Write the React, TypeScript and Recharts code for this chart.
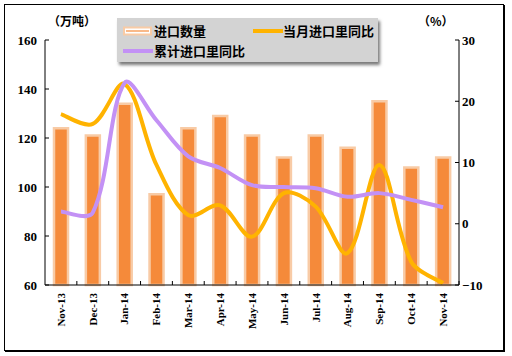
import React from 'react';
import { ComposedChart, Bar, Line, XAxis, YAxis } from 'recharts';

const categories = ['Nov-13', 'Dec-13', 'Jan-14', 'Feb-14', 'Mar-14', 'Apr-14', 'May-14', 'Jun-14', 'Jul-14', 'Aug-14', 'Sep-14', 'Oct-14', 'Nov-14'];
const importVolume = [124, 121, 134, 97, 124, 129, 121, 112, 121, 116, 135, 108, 112];
const monthlyYoY = [17.9, 16.3, 22.8, 9.6, 1.4, 3.0, -2.1, 5.0, 2.8, -4.8, 9.6, -6.2, -9.7];
const cumulativeYoY = [2.0, 1.8, 23.0, 16.9, 11.0, 9.1, 6.3, 6.0, 5.8, 4.4, 5.0, 3.9, 2.7];
const leftTicks = [60, 80, 100, 120, 140, 160];
const rightTicks = [-10, 0, 10, 20, 30];

const data = categories.map((name, i) => ({
  name,
  volume: importVolume[i],
  monthly: monthlyYoY[i],
  cumulative: cumulativeYoY[i],
}));

const W = 512;
const H = 356;
const LEFT_W = 45;
const RIGHT_W = 53;
const STEP = (W - LEFT_W - RIGHT_W) / categories.length;

const numFont = "'Liberation Serif', serif";
const cjkFont = "'Noto Sans CJK SC', sans-serif";
const ORANGE = '#F58A3A';
const PEACH = '#F8CBA6';
const YELLOW = '#FFB300';
const PURPLE = '#C391F5';

// Excel-style smoothed line: Bezier through the points, tangents weighted by chord length
const smoothCurve = (context: any) => {
  let pts: number[][] = [];
  const dist = (a: number[], b: number[]) => Math.hypot(b[0] - a[0], b[1] - a[1]) || 1;
  return {
    areaStart() {},
    areaEnd() {},
    lineStart() {
      pts = [];
    },
    point(x: number, y: number) {
      pts.push([+x, +y]);
    },
    lineEnd() {
      const n = pts.length;
      if (!n) return;
      context.moveTo(pts[0][0], pts[0][1]);
      for (let i = 0; i < n - 1; i++) {
        const p0 = pts[Math.max(i - 1, 0)];
        const p1 = pts[i];
        const p2 = pts[i + 1];
        const p3 = pts[Math.min(i + 2, n - 1)];
        const d01 = i === 0 ? dist(p1, p2) : dist(p0, p1);
        const d12 = dist(p1, p2);
        const d23 = i + 2 > n - 1 ? d12 : dist(p2, p3);
        const k1 = d12 / (d01 + d12) / 1.5;
        const k2 = d12 / (d12 + d23) / 1.5;
        context.bezierCurveTo(
          p1[0] + (p2[0] - p0[0]) * k1 * 0.5,
          p1[1] + (p2[1] - p0[1]) * k1 * 0.5,
          p2[0] - (p3[0] - p1[0]) * k2 * 0.5,
          p2[1] - (p3[1] - p1[1]) * k2 * 0.5,
          p2[0],
          p2[1]
        );
      }
    },
  };
};

const XTick = (props: any) => {
  const { x, y, payload } = props;
  return (
    <g>
      <line x1={x + STEP / 2} y1={y} x2={x + STEP / 2} y2={y - 4} stroke="#000" />
      <text
        transform={`translate(${x},${y + 8}) rotate(-90)`}
        textAnchor="end"
        dy="0.35em"
        fontFamily={numFont}
        fontWeight="bold"
        fontSize={11}
        fill="#000"
      >
        {payload.value}
      </text>
    </g>
  );
};

const LeftTick = (props: any) => {
  const { x, y, payload } = props;
  return (
    <g>
      <line x1={x} y1={y} x2={x + 4} y2={y} stroke="#000" />
      <text x={x - 8} y={y} dy="0.35em" textAnchor="end" fontFamily={numFont} fontWeight="bold" fontSize={13} fill="#000">
        {payload.value}
      </text>
    </g>
  );
};

const RightTick = (props: any) => {
  const { x, y, payload } = props;
  return (
    <g>
      <line x1={x - 4} y1={y} x2={x} y2={y} stroke="#000" />
      <text x={x + 3} y={y} dy="0.35em" textAnchor="start" fontFamily={numFont} fontWeight="bold" fontSize={13} fill="#000">
        {payload.value < 0 ? '\u2212' + Math.abs(payload.value) : payload.value}
      </text>
    </g>
  );
};

const legendText: React.CSSProperties = {
  fontFamily: cjkFont,
  fontWeight: 'bold',
  fontSize: 13,
  color: '#000',
  lineHeight: '16px',
};

const LegendBox = () => (
  <div
    style={{
      position: 'absolute',
      left: 117,
      top: 18,
      width: 261,
      height: 44,
      background: '#D3D3D3',
      boxShadow: '2px 3px 3px #7a7a7a',
    }}
  >
    <div style={{ position: 'absolute', left: 6, top: 5, display: 'flex', alignItems: 'center' }}>
      <svg width={29} height={10}>
        <rect x={1} y={1.5} width={27} height={7} fill="#fff" stroke={PEACH} strokeWidth={2} />
        <rect x={3} y={4} width={23} height={2} fill={ORANGE} opacity={0.6} />
      </svg>
      <span style={{ ...legendText, marginLeft: 2 }}>进口数量</span>
    </div>
    <div style={{ position: 'absolute', left: 136, top: 5, display: 'flex', alignItems: 'center' }}>
      <svg width={30} height={10}>
        <line x1={0} y1={5} x2={30} y2={5} stroke={YELLOW} strokeWidth={4} />
      </svg>
      <span style={{ ...legendText }}>当月进口里同比</span>
    </div>
    <div style={{ position: 'absolute', left: 6, top: 25, display: 'flex', alignItems: 'center' }}>
      <svg width={30} height={10}>
        <line x1={0} y1={5} x2={30} y2={5} stroke={PURPLE} strokeWidth={4} />
      </svg>
      <span style={{ ...legendText, marginLeft: 1 }}>累计进口里同比</span>
    </div>
  </div>
);

const App: React.FC = () => {
  return (
    <div style={{ position: 'absolute', left: 0, top: 0, width: W, height: H, background: '#fff' }}>
      <div
        style={{
          position: 'absolute',
          left: 4,
          top: 4,
          width: 498,
          height: 345,
          border: '1px solid #000',
          boxShadow: '1px 1px 0 #000',
        }}
      />
      <div style={{ position: 'absolute', left: 48, top: 13, ...legendText, fontSize: 12 }}>（万吨）</div>
      <div style={{ position: 'absolute', left: 418, top: 13, ...legendText, fontSize: 12 }}>（%）</div>
      <ComposedChart
        width={W}
        height={H}
        data={data}
        margin={{ top: 40, right: 0, bottom: 0, left: 0 }}
        barCategoryGap={0}
        style={{ position: 'absolute', left: 0, top: 0 }}
      >
        <XAxis
          dataKey="name"
          height={71}
          axisLine={{ stroke: '#000' }}
          tickLine={false}
          tickSize={0}
          tickMargin={0}
          interval={0}
          tick={<XTick />}
        />
        <YAxis
          yAxisId="left"
          width={LEFT_W}
          domain={[60, 160]}
          ticks={leftTicks}
          axisLine={{ stroke: '#000' }}
          tickLine={false}
          tickSize={0}
          tickMargin={0}
          tick={<LeftTick />}
        />
        <YAxis
          yAxisId="right"
          orientation="right"
          width={RIGHT_W}
          domain={[-10, 30]}
          ticks={rightTicks}
          axisLine={{ stroke: '#000' }}
          tickLine={false}
          tickSize={0}
          tickMargin={0}
          tick={<RightTick />}
        />
        <Bar
          yAxisId="left"
          dataKey="volume"
          name="进口数量"
          barSize={14}
          fill={ORANGE}
          stroke={PEACH}
          strokeWidth={2.5}
          isAnimationActive={false}
        />
        <Line
          yAxisId="right"
          type={smoothCurve as any}
          dataKey="monthly"
          name="当月进口里同比"
          stroke={YELLOW}
          strokeWidth={4}
          dot={false}
          activeDot={false}
          isAnimationActive={false}
        />
        <Line
          yAxisId="right"
          type={smoothCurve as any}
          dataKey="cumulative"
          name="累计进口里同比"
          stroke={PURPLE}
          strokeWidth={4}
          dot={false}
          activeDot={false}
          isAnimationActive={false}
        />
      </ComposedChart>
      <LegendBox />
    </div>
  );
};

export default App;
